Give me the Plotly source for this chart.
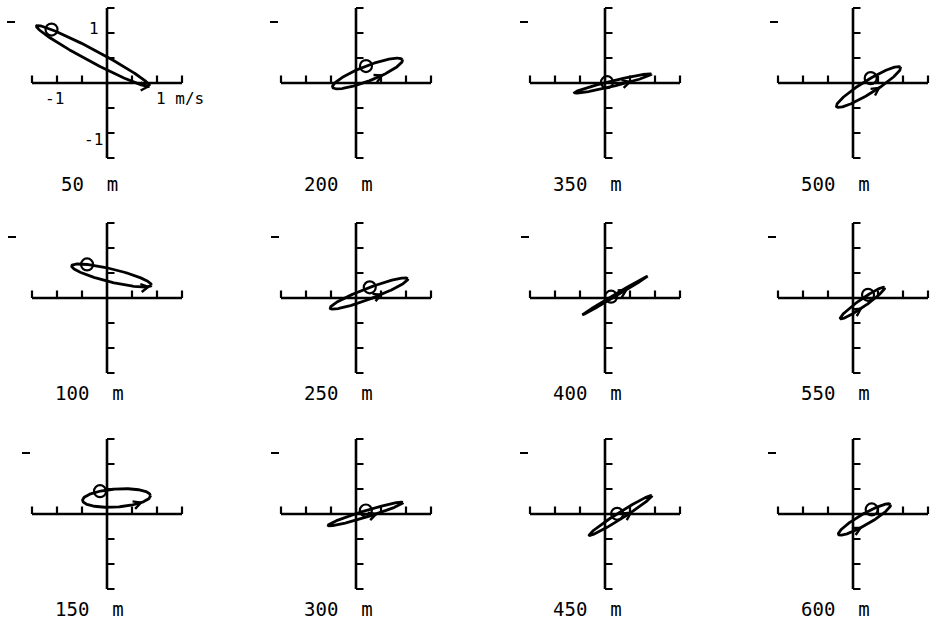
import numpy as np
import plotly.graph_objects as go

# ---------------- data (m/s) ----------------
depths = [50, 100, 150, 200, 250, 300, 350, 400, 450, 500, 550, 600]
center_u = [-0.28, 0.09, 0.19, 0.23, 0.26, 0.19, 0.16, 0.20, 0.31, 0.31, 0.19, 0.23]
center_v = [0.54, 0.45, 0.32, 0.19, 0.09, 0.00, -0.01, 0.05, -0.03, -0.08, -0.10, -0.11]
semi_major = [1.28, 0.82, 0.68, 0.75, 0.83, 0.78, 0.79, 0.76, 0.74, 0.75, 0.54, 0.60]
semi_minor = [0.12, 0.13, 0.18, 0.15, 0.11, 0.065, 0.055, 0.02, 0.065, 0.13, 0.075, 0.11]
inclination_deg = [-28, -13.7, 4, 21.4, 20.8, 17, 13.6, 30.6, 32.3, 31.6, 35, 30]
start_phase_deg = [140, 130, 118, 88, 86, 88, 98, 96, 93, 80, 70, 68]
arrow_phase_deg = [350, 340, 315, 290, 285, 285, 295, 289, 286, 283, 260, 255]
axis_ticks = [-1.5, -1.0, -0.5, 0.5, 1.0, 1.5]

# ---------------- layout geometry ----------------
W, H = 932, 625
PX = 50.0
col_cx = [107, 356, 605, 853]
row_cy = [83, 298, 514]
XR = (-2.1, 1.55)
YR = (-2.2, 1.55)
label_y = [-2.02, -1.9, -1.9]
dash_u = [-2.0, -1.98, -1.7, -1.72, -1.7, -1.7, -1.7, -1.68, -1.7, -1.66, -1.7, -1.7]
FONT = "DejaVu Sans Mono"
BLK = "black"

fig = go.Figure()
shapes, annotations = [], []
layout_axes = {}

for i, d in enumerate(depths):
    col, row = i // 3, i % 3
    cx, cy = col_cx[col], row_cy[row]
    k = "" if i == 0 else str(i + 1)
    xa, ya = "x" + k, "y" + k
    layout_axes["xaxis" + k] = dict(
        domain=[(cx + XR[0] * PX) / W, (cx + XR[1] * PX) / W],
        range=list(XR), visible=False, fixedrange=True, anchor=ya)
    layout_axes["yaxis" + k] = dict(
        domain=[1 - (cy - YR[0] * PX) / H, 1 - (cy - YR[1] * PX) / H],
        range=list(YR), visible=False, fixedrange=True, anchor=xa)

    # axes drawn as crossing lines with ticks
    lw = 2.6
    shapes.append(dict(type="line", xref=xa, yref=ya, x0=0, x1=0, y0=-1.5, y1=1.5,
                       line=dict(color=BLK, width=lw)))
    shapes.append(dict(type="line", xref=xa, yref=ya, x0=-1.5, x1=1.5, y0=0, y1=0,
                       line=dict(color=BLK, width=lw)))
    for t in axis_ticks:
        shapes.append(dict(type="line", xref=xa, yref=ya, x0=0, x1=0.15, y0=t, y1=t,
                           line=dict(color=BLK, width=2.2)))
        shapes.append(dict(type="line", xref=xa, yref=ya, x0=t, x1=t, y0=0, y1=0.15,
                           line=dict(color=BLK, width=2.2)))
    # small dash top-left
    shapes.append(dict(type="line", xref=xa, yref=ya, x0=dash_u[i], x1=dash_u[i] + 0.16,
                       y0=1.22, y1=1.22, line=dict(color=BLK, width=2.2)))

    # ellipse
    th = np.deg2rad(inclination_deg[i])
    e1 = np.array([np.cos(th), np.sin(th)])
    e2 = np.array([-np.sin(th), np.cos(th)])
    a, b = semi_major[i], semi_minor[i]
    c = np.array([center_u[i], center_v[i]])

    def pt(tt):
        return c[:, None] + a * np.cos(tt) * e1[:, None] + b * np.sin(tt) * e2[:, None]

    tt = np.linspace(0, 2 * np.pi, 241)
    P = pt(tt)
    fig.add_trace(go.Scatter(x=P[0], y=P[1], mode="lines", xaxis=xa, yaxis=ya,
                             line=dict(color=BLK, width=2.8), hoverinfo="skip",
                             showlegend=False))
    # start marker
    ts = np.deg2rad(start_phase_deg[i])
    S = pt(np.array([ts]))
    fig.add_trace(go.Scatter(x=S[0], y=S[1], mode="markers", xaxis=xa, yaxis=ya,
                             marker=dict(symbol="circle-open", size=12, color=BLK,
                                         line=dict(width=2.2, color=BLK)),
                             hoverinfo="skip", showlegend=False))
    # arrow head (chevron) in direction of rotation
    ta = np.deg2rad(arrow_phase_deg[i])
    tip = pt(np.array([ta]))[:, 0]
    vel = -a * np.sin(ta) * e1 + b * np.cos(ta) * e2
    vel = vel / np.linalg.norm(vel)
    L = 0.17
    arms = []
    for ang in (np.deg2rad(28), -np.deg2rad(28)):
        r = np.array([[np.cos(ang), -np.sin(ang)], [np.sin(ang), np.cos(ang)]])
        arms.append(tip - L * (r @ vel))
    fig.add_trace(go.Scatter(x=[arms[0][0], tip[0], arms[1][0]],
                             y=[arms[0][1], tip[1], arms[1][1]],
                             mode="lines", xaxis=xa, yaxis=ya,
                             line=dict(color=BLK, width=2.4), hoverinfo="skip",
                             showlegend=False))

    annotations.append(dict(xref=xa, yref=ya, x=-0.35, y=label_y[row],
                            text=f"{d}\u00a0\u00a0m", showarrow=False,
                            xanchor="center", yanchor="middle",
                            font=dict(family=FONT, size=19, color=BLK)))

    if i == 0:
        lab = dict(showarrow=False, xref=xa, yref=ya,
                   font=dict(family=FONT, size=16, color=BLK))
        annotations.append({**lab, "x": -0.12, "y": 1.1, "text": "1",
                            "xanchor": "right", "yanchor": "middle"})
        annotations.append({**lab, "x": -0.05, "y": -1.12, "text": "-1",
                            "xanchor": "right", "yanchor": "middle"})
        annotations.append({**lab, "x": -1.05, "y": -0.3, "text": "-1",
                            "xanchor": "center", "yanchor": "middle"})
        annotations.append({**lab, "x": 0.93, "y": -0.3, "text": "1\u00a0m/s",
                            "xanchor": "left", "yanchor": "middle"})

fig.update_layout(width=W, height=H, margin=dict(l=0, r=0, t=0, b=0),
                  paper_bgcolor="white", plot_bgcolor="white",
                  shapes=shapes, annotations=annotations, showlegend=False,
                  **layout_axes)
fig.write_html("out.html")
